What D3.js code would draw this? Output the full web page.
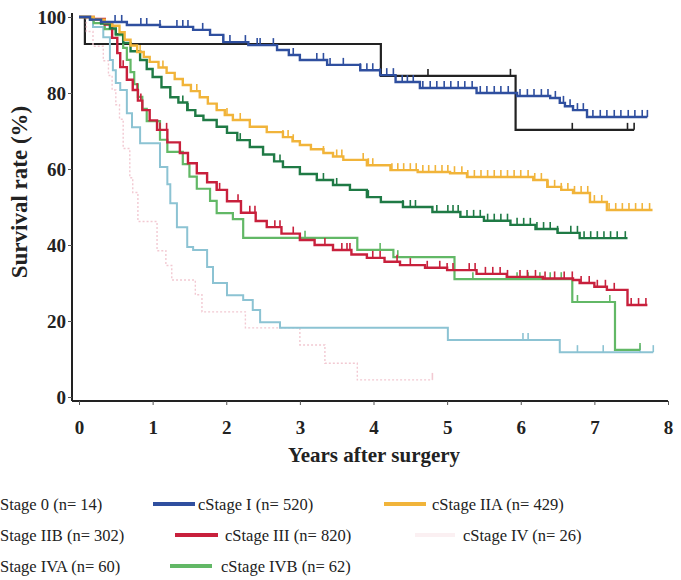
<!DOCTYPE html>
<html><head><meta charset="utf-8">
<script src="https://cdn.jsdelivr.net/npm/d3@7"></script>
<style>
body{margin:0;background:#fff;}
svg{display:block;}
text{font-family:"Liberation Serif","DejaVu Serif",serif;}
</style></head>
<body><svg id="c" width="681" height="580"></svg>
<script>
// ---- data (years, survival %) ----
const xTicks = [0,1,2,3,4,5,6,7,8];
const yTicks = [0,20,40,60,80,100];

const stage0 = [[0,100],[0.08,92.9],[4.1,84.5],[5.93,70.3],[7.54,70.3]];
const stage0Cens = [4.74,5.86,6.7,7.45,7.54];

const stageI = [[0,100],[0.15,99.3],[0.3,98.7],[0.65,97.9],[1.1,97.4],[1.55,96.6],[1.78,95.3],[1.96,93.4],[2.3,92.6],[2.69,91.3],[2.85,90],[3.0,88.7],[3.37,87.4],[3.82,86],[4.09,84.7],[4.3,82.9],[4.63,81.3],[5.4,80],[5.95,79.2],[6.4,78.7],[6.53,77.4],[6.6,76.5],[6.71,75.5],[6.9,73.7],[7.72,73.7]];
const stageICens = [0.49,0.58,0.84,0.92,1.10,1.33,1.41,1.48,1.68,1.96,2.05,2.26,2.42,2.46,2.64,2.91,3.23,3.32,3.41,3.59,3.82,3.91,3.99,4.09,4.18,4.27,4.39,4.46,4.54,4.67,4.77,4.86,4.96,5.05,5.15,5.24,5.34,5.45,5.54,5.64,5.73,5.83,5.99,6.09,6.18,6.28,6.37,6.47,6.58,6.67,6.77,6.85,6.98,7.08,7.17,7.27,7.36,7.46,7.55,7.65,7.72];

const stageIIA = [[0,100],[0.2,99.3],[0.35,98.6],[0.45,97.7],[0.55,96],[0.62,94],[0.7,92.5],[0.79,90.8],[0.88,89.5],[0.96,88.2],[1.08,86.7],[1.19,85.3],[1.3,83.7],[1.41,82.1],[1.52,80.5],[1.64,78.9],[1.75,77.2],[1.87,75.5],[1.98,74.2],[2.09,72.9],[2.32,71.1],[2.55,69.7],[2.77,68.4],[2.9,67.3],[3.0,66.3],[3.15,65.2],[3.32,64.2],[3.45,63.3],[3.59,62.4],[3.91,61],[4.23,59.7],[4.6,59.2],[5.04,58.9],[5.27,57.9],[6.17,57.1],[6.36,55.3],[6.55,54.5],[6.71,53.7],[6.94,51.3],[7.17,49.2],[7.79,49.2]];
const stageIIACens = [0.83,1.14,1.41,1.6,1.87,2.01,2.19,2.77,2.84,2.91,3.32,3.5,3.57,3.86,3.93,3.99,4.25,4.33,4.41,4.5,4.58,4.67,4.75,4.84,4.93,5.01,5.1,5.2,5.28,5.37,5.46,5.55,5.64,5.73,5.82,5.91,6.0,6.1,6.19,6.28,6.37,6.46,6.55,6.64,6.73,6.82,6.91,7.0,7.1,7.2,7.29,7.38,7.47,7.56,7.65,7.75];

const stageIIB = [[0,100],[0.15,99.3],[0.3,98.3],[0.42,97],[0.5,95.5],[0.6,93.2],[0.7,91],[0.83,88.7],[0.92,86.3],[1.0,84.2],[1.12,81.5],[1.24,78.9],[1.35,77.5],[1.47,75.5],[1.58,74],[1.69,72.9],[1.87,71.1],[2.01,69.5],[2.15,67.6],[2.32,65.8],[2.5,63.8],[2.65,62],[2.77,60.5],[3.0,58.7],[3.23,57.1],[3.45,55.8],[3.68,54.5],[3.91,52.6],[4.1,51.3],[4.4,50],[4.8,48.7],[5.18,47.4],[5.5,46.4],[5.86,45.3],[6.2,44.2],[6.5,43.2],[6.8,41.8],[7.45,41.8]];
const stageIIBCens = [1.41,1.48,2.19,2.73,3.32,3.5,3.91,3.93,4.4,4.5,4.57,4.86,5.01,5.08,5.15,5.27,5.36,5.45,5.55,5.64,5.73,5.82,5.95,6.04,6.13,6.22,6.31,6.4,6.5,6.68,6.77,6.86,6.95,7.04,7.13,7.22,7.31,7.42];

const stageIII = [[0,100],[0.2,99.5],[0.35,98],[0.45,94.5],[0.52,90.5],[0.56,86.8],[0.65,83.5],[0.73,80.8],[0.8,78],[0.86,75.5],[0.96,72.8],[1.06,70.3],[1.2,67],[1.37,64.2],[1.48,61.5],[1.6,58.9],[1.74,56.5],[1.87,54.5],[2.01,51.5],[2.2,48.5],[2.4,46.3],[2.55,44.7],[2.75,43],[3.0,41.3],[3.2,40],[3.45,38.7],[3.7,37.5],[3.91,36.6],[4.15,35.6],[4.36,34.7],[4.7,34],[5.0,33.4],[5.4,32.4],[5.81,31.6],[6.3,31.2],[6.71,30.8],[6.8,30],[7.0,29],[7.17,28.2],[7.45,24.2],[7.72,24.2]];
const stageIIICens = [0.52,0.6,0.79,0.84,1.1,1.19,1.48,1.74,1.87,1.91,2.16,2.32,2.39,2.66,2.73,2.91,3.34,3.57,3.64,3.68,3.99,4.09,4.32,4.5,4.73,4.9,5.0,5.08,5.3,5.38,5.52,5.62,5.72,5.82,5.99,6.09,6.2,6.33,6.46,6.59,6.7,6.82,6.93,7.04,7.15,7.27,7.5,7.6,7.7];

const stageIV = [[0,100],[0.1,96.2],[0.19,92.3],[0.33,88.5],[0.4,84.6],[0.45,80.8],[0.5,76.9],[0.55,73.1],[0.6,65.4],[0.69,57.7],[0.73,53.8],[0.8,46.2],[1.06,38.5],[1.18,34.6],[1.26,30.8],[1.58,26.9],[1.67,22.4],[2.26,18.2],[3.0,13.7],[3.34,8.9],[3.78,4.5],[4.8,4.5]];
const stageIVCens = [4.8];

const stageIVA = [[0,100],[0.19,97.4],[0.33,94.7],[0.42,88.7],[0.46,86],[0.5,82.6],[0.56,80.8],[0.65,74.7],[0.72,71],[0.83,66.8],[1.1,60.5],[1.2,56],[1.24,51],[1.33,44.7],[1.47,39.5],[1.55,38.7],[1.74,34.2],[1.82,30],[2.01,26.8],[2.23,25.5],[2.36,22.9],[2.46,19.7],[2.73,18.2],[5.01,15],[6.53,11.8],[7.8,11.8]];
const stageIVACens = [6.03,6.1,6.77,7.12,7.62,7.8];

const stageIVB = [[0,100],[0.2,98.4],[0.35,96.8],[0.5,95.2],[0.6,91.9],[0.65,88.7],[0.7,85.5],[0.75,82.3],[0.8,79],[0.86,75.8],[0.92,72.6],[1.1,67.7],[1.2,64.5],[1.41,61.3],[1.5,58],[1.6,54.8],[1.78,51.6],[1.87,48.4],[2.09,46.8],[2.23,41.9],[3.78,38.7],[4.27,36.8],[5.1,31.0],[6.7,25],[7.28,12.4],[7.62,12.4]];
const stageIVBCens = [3.07,4.09,4.33,5.35,5.95,6.1,6.26,6.4,6.55,6.77,7.21,7.62];

const legendLabels = ["Stage 0 (n= 14)","cStage I (n= 520)","cStage IIA (n= 429)","Stage IIB (n= 302)","cStage III (n= 820)","cStage IV (n= 26)","Stage IVA (n= 60)","cStage IVB (n= 62)"];

// ---- drawing ----
const series = [
  {steps:stage0, cens:stage0Cens, color:"#222222", w:2.2},
  {steps:stageIV, cens:stageIVCens, color:"#f2c9d2", w:1.4, dash:"2,2"},
  {steps:stageIVA, cens:stageIVACens, color:"#8cc3d3", w:2},
  {steps:stageIVB, cens:stageIVBCens, color:"#62b866", w:2.2},
  {steps:stageIII, cens:stageIIICens, color:"#c8203c", w:2.4},
  {steps:stageIIB, cens:stageIIBCens, color:"#1f7a45", w:2.4},
  {steps:stageIIA, cens:stageIIACens, color:"#f1b43a", w:2.4},
  {steps:stageI, cens:stageICens, color:"#2f4f9f", w:2.4}
];

const svg = d3.select("#c");
const x = d3.scaleLinear().domain([0,8]).range([79,668]);
const y = d3.scaleLinear().domain([0,100]).range([397,17]);

// axes
const gx = svg.append("g").attr("transform","translate(0,401)")
  .call(d3.axisBottom(x).tickValues(xTicks).tickSize(4).tickFormat(d3.format("d")));
gx.select(".domain").attr("d","M72,0H668").attr("stroke","#222").attr("stroke-width",2);
gx.selectAll(".tick line").attr("stroke","#555");
gx.selectAll(".tick text").attr("dy","0").attr("y",33).attr("font-size",19).attr("font-weight","bold")
  .attr("fill","#222").style("font-family","'Liberation Serif',serif");

const gy = svg.append("g").attr("transform","translate(72,0)")
  .call(d3.axisLeft(y).tickValues(yTicks).tickSize(4));
gy.select(".domain").attr("d","M0,13V401").attr("stroke","#222").attr("stroke-width",2);
gy.selectAll(".tick line").attr("stroke","#555");
gy.selectAll(".tick text").attr("x",-6).attr("font-size",19).attr("font-weight","bold")
  .attr("fill","#222").style("font-family","'Liberation Serif',serif");

svg.append("text").attr("transform","translate(27,192) rotate(-90)")
  .attr("text-anchor","middle").attr("font-size",23).attr("font-weight","bold").attr("fill","#222")
  .text("Survival rate (%)");
svg.append("text").attr("x",374).attr("y",462).attr("text-anchor","middle")
  .attr("font-size",21).attr("font-weight","bold").attr("fill","#222").text("Years after surgery");

const line = d3.line().x(d=>x(d[0])).y(d=>y(d[1])).curve(d3.curveStepAfter);
const bis = d3.bisector(d=>d[0]).right;
series.forEach(s=>{
  svg.append("path").datum(s.steps).attr("d",line).attr("fill","none")
    .attr("stroke",s.color).attr("stroke-width",s.w).attr("stroke-dasharray",s.dash||null);
  svg.append("g").selectAll("line").data(s.cens).join("line")
    .attr("x1",d=>x(d)).attr("x2",d=>x(d))
    .attr("y1",d=>y(s.steps[Math.max(0,bis(s.steps,d)-1)][1]))
    .attr("y2",d=>y(s.steps[Math.max(0,bis(s.steps,d)-1)][1])-7)
    .attr("stroke",s.color).attr("stroke-width",1.6);
});

// legend
const legendColors = ["#222222","#2f4f9f","#f1b43a","#1f7a45","#c8203c","#fbf0f2","#8cc3d3","#62b866"];
const legPos = [[null,0,504],[[153,195],198,504],[[384,426],432,504],
                [null,0,535],[[175,218],225,535],[[415,455],463,535],
                [null,0,566],[[170,212],221,566]];
legPos.forEach((p,i)=>{
  if(p[0]) svg.append("line").attr("x1",p[0][0]).attr("x2",p[0][1]).attr("y1",p[2]).attr("y2",p[2])
    .attr("stroke",legendColors[i]).attr("stroke-width",4);
  svg.append("text").attr("x",p[1]).attr("y",p[2]).attr("dy","0.35em").attr("font-size",16.5)
    .attr("fill","#222").text(legendLabels[i]);
});
</script></body></html>
